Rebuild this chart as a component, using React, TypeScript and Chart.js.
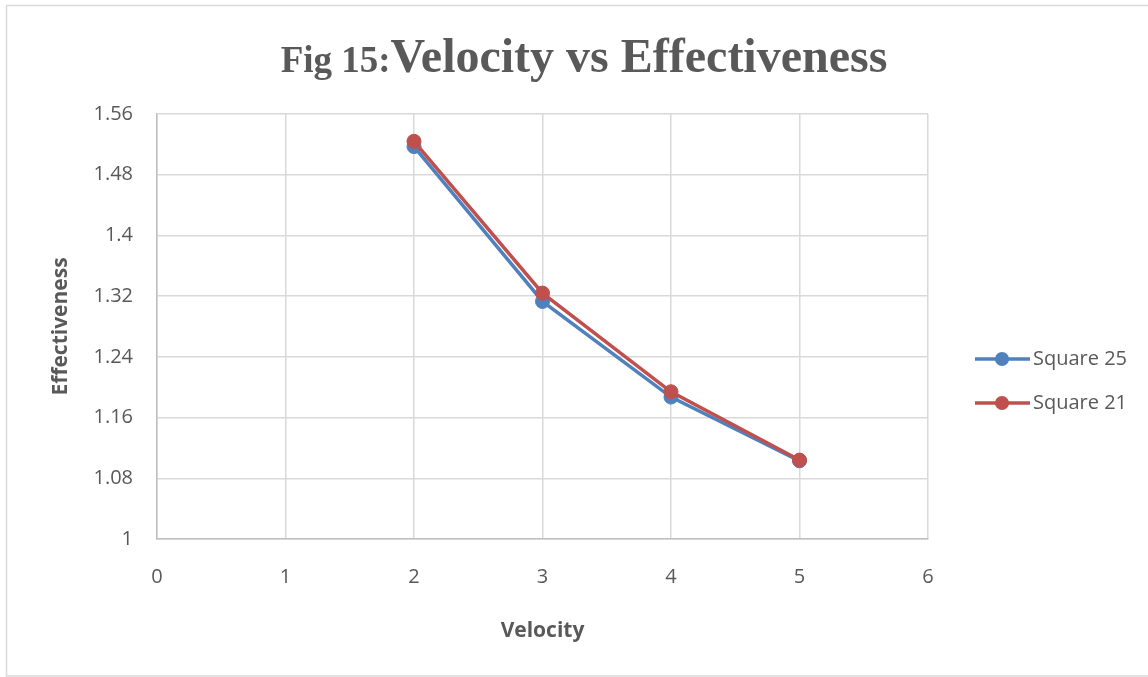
import React, { useEffect, useRef } from "react";
import { Chart, registerables } from "chart.js";

Chart.register(...registerables);

const velocity = [2, 3, 4, 5];
const square25 = [1.517, 1.313, 1.187, 1.103];
const square21 = [1.524, 1.324, 1.194, 1.104];
const seriesNames = ["Square 25", "Square 21"];
const seriesColors = ["#4F81BD", "#C0504D"];
const titleSmall = "Fig 15:";
const titleBig = "Velocity vs Effectiveness";
const xTitle = "Velocity";
const yTitle = "Effectiveness";

const GRAY = "#595959";
const SANS = "'Open Sans', 'Liberation Sans', sans-serif";

export default function App() {
  const ref = useRef<HTMLCanvasElement | null>(null);

  useEffect(() => {
    if (!ref.current) return;
    const decor = {
      id: "decor",
      beforeDraw(chart: any) {
        const ctx = chart.ctx;
        ctx.save();
        ctx.fillStyle = "#ffffff";
        ctx.fillRect(0, 0, chart.width, chart.height);
        ctx.strokeStyle = "#d9d9d9";
        ctx.lineWidth = 1.5;
        ctx.strokeRect(6.5, 5.5, 1150, 670.5);
        ctx.restore();
      },
      afterDraw(chart: any) {
        const ctx = chart.ctx;
        ctx.save();
        // title
        ctx.fillStyle = GRAY;
        ctx.textBaseline = "alphabetic";
        const fSmall = "bold 37px 'Liberation Serif', 'Times New Roman', serif";
        const fBig = "bold 48px 'Liberation Serif', 'Times New Roman', serif";
        ctx.font = fSmall;
        const w1 = ctx.measureText(titleSmall).width;
        ctx.font = fBig;
        const w2 = ctx.measureText(titleBig).width;
        const cx = 584;
        const startX = cx - (w1 + w2) / 2;
        ctx.font = fSmall;
        ctx.textAlign = "left";
        ctx.fillText(titleSmall, startX, 72);
        ctx.font = fBig;
        ctx.fillText(titleBig, startX + w1, 72);
        // legend
        const ys = [359, 403];
        seriesNames.forEach((name, i) => {
          const y = ys[i];
          ctx.strokeStyle = seriesColors[i];
          ctx.lineWidth = 3.5;
          ctx.beginPath();
          ctx.moveTo(975, y);
          ctx.lineTo(1030, y);
          ctx.stroke();
          ctx.fillStyle = seriesColors[i];
          ctx.beginPath();
          ctx.arc(1002, y, 7, 0, Math.PI * 2);
          ctx.fill();
          ctx.fillStyle = GRAY;
          ctx.font = `20px ${SANS}`;
          ctx.textBaseline = "middle";
          ctx.fillText(name, 1033, y);
        });
        ctx.restore();
      },
    };

    const chart = new Chart(ref.current, {
      type: "line",
      data: {
        datasets: [
          {
            label: seriesNames[0],
            data: velocity.map((x, i) => ({ x, y: square25[i] })),
            borderColor: seriesColors[0],
            backgroundColor: seriesColors[0],
            borderWidth: 3.5,
            pointRadius: 7,
            pointBorderWidth: 1,
            pointBackgroundColor: seriesColors[0],
            pointBorderColor: seriesColors[0],
            order: 1,
          },
          {
            label: seriesNames[1],
            data: velocity.map((x, i) => ({ x, y: square21[i] })),
            borderColor: seriesColors[1],
            backgroundColor: seriesColors[1],
            borderWidth: 3.5,
            pointRadius: 7,
            pointBorderWidth: 1,
            pointBackgroundColor: seriesColors[1],
            pointBorderColor: seriesColors[1],
            order: 0,
          },
        ],
      },
      options: {
        animation: false,
        responsive: false,
        devicePixelRatio: 1,
        layout: { padding: { left: 44, right: 220, top: 114, bottom: 29 } },
        plugins: { legend: { display: false }, tooltip: { enabled: false }, title: { display: false } },
        scales: {
          x: {
            type: "linear",
            min: 0,
            max: 6,
            ticks: { stepSize: 1, color: GRAY, font: { family: SANS, size: 20 }, padding: 26 },
            grid: { color: "#d9d9d9", lineWidth: 1.5, drawTicks: false },
            border: { color: "#bfbfbf", width: 1.5 },
            title: { display: true, text: xTitle, color: GRAY, font: { family: SANS, size: 21, weight: "bold" } },
            afterFit: (s: any) => {
              s.height = 677 - 539 - 29;
            },
          },
          y: {
            type: "linear",
            min: 1,
            max: 1.56,
            ticks: {
              stepSize: 0.08,
              color: GRAY,
              font: { family: SANS, size: 20 },
              padding: 24,
              callback: (v: any) => String(parseFloat(Number(v).toFixed(2))),
            },
            grid: { color: "#d9d9d9", lineWidth: 1.5, drawTicks: false },
            border: { color: "#bfbfbf", width: 1.5 },
            title: { display: true, text: yTitle, color: GRAY, font: { family: SANS, size: 21, weight: "bold" } },
            afterFit: (s: any) => {
              s.width = 157 - 44;
            },
          },
        },
      },
      plugins: [decor],
    });
    return () => chart.destroy();
  }, []);

  return (
    <div style={{ position: "fixed", left: 0, top: 0, width: 1148, height: 677, background: "#fff" }}>
      <canvas ref={ref} width={1148} height={677} style={{ display: "block" }} />
    </div>
  );
}
